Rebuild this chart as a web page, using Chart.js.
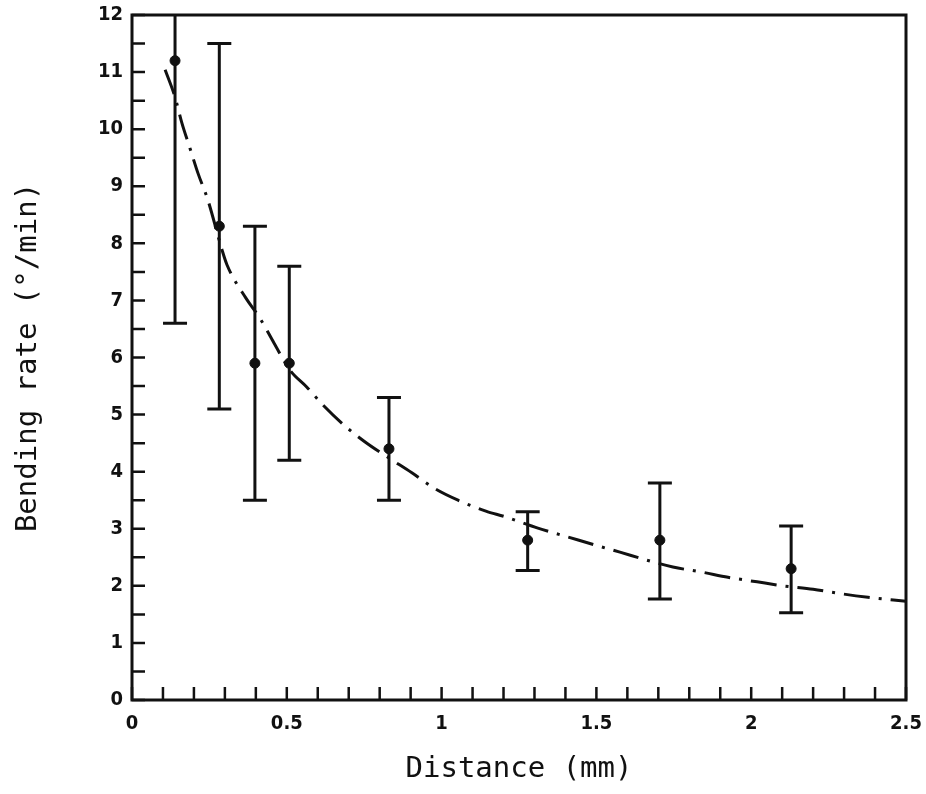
<!DOCTYPE html>
<html>
<head>
<meta charset="utf-8">
<script src="https://cdn.jsdelivr.net/npm/chart.js@4/dist/chart.umd.min.js"></script>
<style>
  html, body { margin: 0; padding: 0; background: #fff; }
  #wrap { width: 926px; height: 794px; }
</style>
</head>
<body>
<div id="wrap"><canvas id="bendChart" width="926" height="794"></canvas></div>
<script>
// measured points (mean with error bar ends)
const distance = [0.139, 0.282, 0.397, 0.508, 0.83, 1.278, 1.705, 2.129];
const rate     = [11.2, 8.3, 5.9, 5.9, 4.4, 2.8, 2.8, 2.3];
const errHigh  = [12.6, 11.5, 8.3, 7.6, 5.3, 3.3, 3.8, 3.05];
const errLow   = [6.6, 5.1, 3.5, 4.2, 3.5, 2.27, 1.77, 1.53];

// fitted curve
const curveX = [0.107, 0.139, 0.161, 0.187, 0.213, 0.245, 0.291, 0.307, 0.368, 0.413, 0.459, 0.51, 0.565, 0.62, 0.688,
                0.753, 0.824, 0.904, 0.979, 1.053, 1.143, 1.205, 1.311, 1.399, 1.505, 1.576, 1.663, 1.747, 1.841,
                1.925, 2.019, 2.103, 2.2, 2.28, 2.377, 2.5];
const curveY = [11.04, 10.56, 10.11, 9.67, 9.23, 8.76, 7.88, 7.62, 7.04, 6.69, 6.25, 5.78, 5.48, 5.15, 4.8,
                4.52, 4.26, 3.98, 3.7, 3.5, 3.31, 3.21, 3.01, 2.87, 2.7, 2.59, 2.45, 2.33, 2.24,
                2.15, 2.07, 2.0, 1.94, 1.87, 1.8, 1.73];

const yTicksLabelled = ['0', '1', '2', '3', '4', '5', '6', '7', '8', '9', '10', '11', '12'];
const xTicksLabelled = ['0', '0.5', '1', '1.5', '2', '2.5'];

const tickFont = { family: 'DejaVu Sans Condensed', size: 20, weight: 'bold' };
const titleFont = { family: 'DejaVu Sans Mono', size: 29 };

// frame plus inward tick marks, drawn from the scales
const frameTicks = {
    id: 'frameTicks',
    afterDraw(chart) {
        const { ctx, chartArea: a, scales: { x, y } } = chart;
        ctx.save();
        ctx.strokeStyle = '#111';
        ctx.lineWidth = 2.5;
        ctx.beginPath();
        x.ticks.forEach(t => {
            const px = x.getPixelForValue(t.value);
            ctx.moveTo(px, a.bottom);
            ctx.lineTo(px, a.bottom - 13);
        });
        y.ticks.forEach(t => {
            const py = y.getPixelForValue(t.value);
            ctx.moveTo(a.left, py);
            ctx.lineTo(a.left + 13, py);
        });
        ctx.stroke();
        ctx.lineWidth = 3;
        ctx.strokeRect(a.left, a.top, a.right - a.left, a.bottom - a.top);
        ctx.restore();
    }
};

// vertical error bars with caps
const errorBars = {
    id: 'errorBars',
    afterDatasetsDraw(chart) {
        const { ctx, chartArea: a, scales: { x, y } } = chart;
        ctx.save();
        ctx.beginPath();
        ctx.rect(a.left, a.top, a.right - a.left, a.bottom - a.top);
        ctx.clip();
        ctx.strokeStyle = '#111';
        ctx.lineWidth = 3;
        ctx.beginPath();
        distance.forEach((d, i) => {
            const px = x.getPixelForValue(d);
            const hi = y.getPixelForValue(errHigh[i]);
            const lo = y.getPixelForValue(errLow[i]);
            ctx.moveTo(px, hi);
            ctx.lineTo(px, lo);
            ctx.moveTo(px - 12, hi);
            ctx.lineTo(px + 12, hi);
            ctx.moveTo(px - 12, lo);
            ctx.lineTo(px + 12, lo);
        });
        ctx.stroke();
        ctx.restore();
    }
};

function noPad(scale) {
    scale.paddingTop = 0;
    scale.paddingBottom = 0;
    scale.paddingLeft = 0;
    scale.paddingRight = 0;
}

new Chart(document.getElementById('bendChart').getContext('2d'), {
    type: 'scatter',
    data: {
        datasets: [
            {
                label: 'Bending rate',
                data: distance.map((d, i) => ({ x: d, y: rate[i] })),
                backgroundColor: '#111',
                borderColor: '#111',
                pointRadius: 5,
                pointHoverRadius: 5
            },
            {
                label: 'Fit',
                type: 'line',
                data: curveX.map((d, i) => ({ x: d, y: curveY[i] })),
                borderColor: '#111',
                borderWidth: 3,
                borderDash: [26, 9, 3, 9],
                pointRadius: 0,
                cubicInterpolationMode: 'monotone',
                fill: false
            }
        ]
    },
    options: {
        responsive: false,
        animation: false,
        layout: { padding: { top: 15, right: 20, left: 0, bottom: 0 } },
        plugins: {
            legend: { display: false },
            tooltip: { enabled: false }
        },
        scales: {
            x: {
                type: 'linear',
                min: 0,
                max: 2.5,
                grid: { display: false, drawTicks: false },
                border: { display: false },
                afterFit(scale) { scale.height = 94; noPad(scale); },
                ticks: {
                    stepSize: 0.1,
                    autoSkip: false,
                    maxRotation: 0,
                    padding: 12,
                    color: '#111',
                    font: tickFont,
                    callback(v) {
                        const k = Math.round(v * 2);
                        return Math.abs(v * 2 - k) < 1e-6 ? xTicksLabelled[k] : '';
                    }
                },
                title: {
                    display: true,
                    text: 'Distance (mm)',
                    color: '#111',
                    font: titleFont,
                    padding: { top: 0, bottom: 7 }
                }
            },
            y: {
                type: 'linear',
                min: 0,
                max: 12,
                grid: { display: false, drawTicks: false },
                border: { display: false },
                afterFit(scale) { scale.width = 132; noPad(scale); },
                ticks: {
                    stepSize: 0.5,
                    autoSkip: false,
                    padding: 9,
                    color: '#111',
                    font: tickFont,
                    callback(v) {
                        return Number.isInteger(v) ? yTicksLabelled[v] : '';
                    }
                },
                title: {
                    display: true,
                    text: 'Bending rate (°/min)',
                    color: '#111',
                    font: titleFont,
                    padding: { top: 11, bottom: 0 }
                }
            }
        }
    },
    plugins: [errorBars, frameTicks]
});
</script>
</body>
</html>
